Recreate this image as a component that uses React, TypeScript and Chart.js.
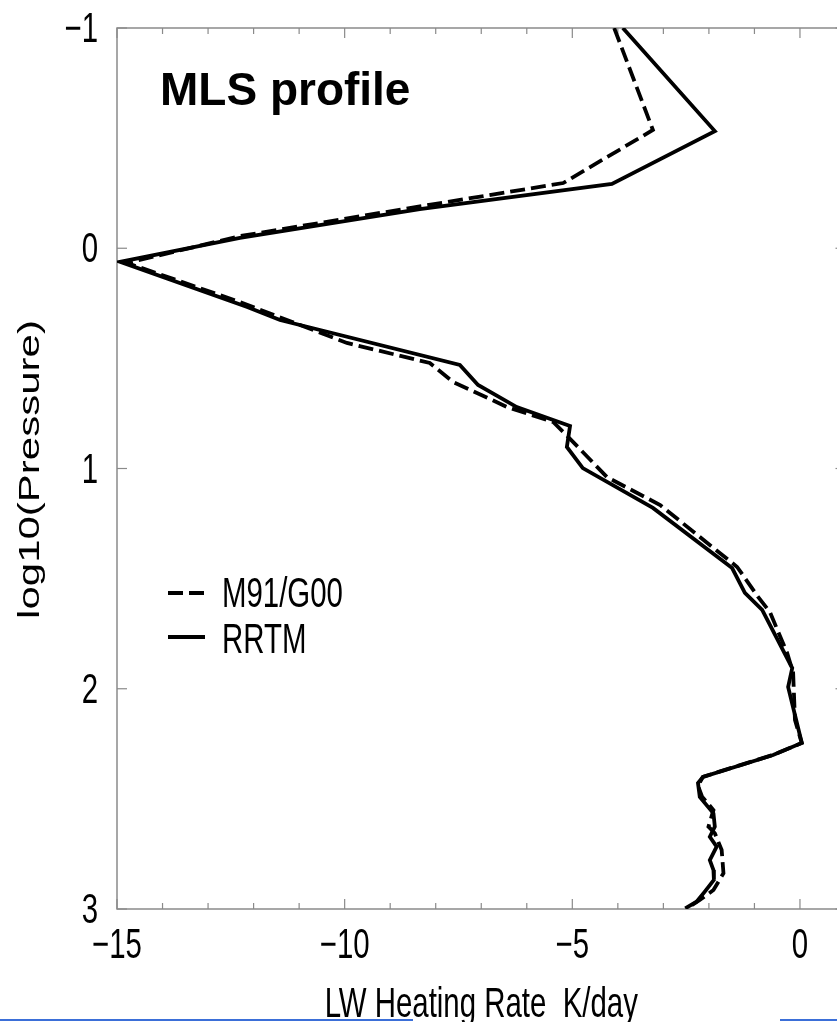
import React, { useEffect, useRef } from "react";
import { Chart, registerables } from "chart.js";

Chart.register(...registerables);

// ---- data ----
const rrtmRate = [
  -3.89, -1.87, -4.13, -8.35, -12.3, -14.93, -12.14, -11.42, -7.47, -7.07, -6.22, -5.05,
  -5.12, -4.77, -3.23, -1.49, -1.21, -0.83, -0.17, -0.26, 0.04, -0.59, -2.13, -2.24,
  -2.2, -1.9, -1.87, -1.98, -1.83, -1.98, -1.9, -1.89, -2.09, -2.27, -2.52,
];
const rrtmLogP = [
  -1.0, -0.532, -0.292, -0.178, -0.047, 0.062, 0.267, 0.326, 0.53, 0.621, 0.721, 0.807,
  0.902, 0.998, 1.179, 1.452, 1.565, 1.642, 1.906, 1.992, 2.246, 2.301, 2.4, 2.428,
  2.491, 2.566, 2.626, 2.672, 2.717, 2.778, 2.823, 2.868, 2.921, 2.967, 2.997,
];
const m91Rate = [
  -4.08, -3.23, -5.2, -8.35, -12.3, -14.78, -12.3, -9.95, -8.13, -7.62, -6.43, -5.42,
  -4.98, -4.24, -3.07, -1.38, -0.92, -0.66, -0.28, -0.15, -0.11, 0.04, -0.59, -2.13,
  -2.24, -2.15, -1.9, -2.01, -1.87, -1.72, -1.68, -1.9, -2.2, -2.49,
];
const m91LogP = [
  -1.0, -0.537, -0.296, -0.19, -0.055, 0.067, 0.244, 0.43, 0.521, 0.607, 0.721, 0.789,
  0.88, 1.039, 1.166, 1.447, 1.583, 1.652, 1.838, 1.928, 2.142, 2.246, 2.3, 2.4,
  2.44, 2.49, 2.551, 2.626, 2.656, 2.732, 2.838, 2.914, 2.959, 2.997,
];

const seriesLabels = ["M91/G00", "RRTM"];
const xTickValues = [-15, -10, -5, 0];
const xMinorTickValues = [-15, -14, -13, -12, -11, -10, -9, -8, -7, -6, -5, -4, -3, -2, -1, 0, 1];
const yTickValues = [-1, 0, 1, 2, 3];
const panelTitle = "MLS profile";
const xTitle = "LW Heating Rate  K/day";
const yTitle = "log10(Pressure)";

const SANS = "'Liberation Sans', Arial, Helvetica, sans-serif";
const TXT = `42px ${SANS}`;
const SQUEEZE = 0.7; // the reference's lettering is vertically stretched

const fmt = (v: number) => (v < 0 ? "\u2212" + Math.abs(v) : String(v));
const zip = (xs: number[], ys: number[]) => xs.map((x, i) => ({ x, y: ys[i] }));

function squeezedText(
  ctx: CanvasRenderingContext2D,
  text: string,
  x: number,
  y: number,
  align: CanvasTextAlign
) {
  ctx.save();
  ctx.translate(x, y);
  ctx.scale(SQUEEZE, 1);
  ctx.font = TXT;
  ctx.textAlign = align;
  ctx.textBaseline = "alphabetic";
  ctx.fillText(text, 0, 0);
  ctx.restore();
}

const framePlugin = {
  id: "frameTicks",
  beforeDatasetsDraw(chart: any) {
    const { ctx, chartArea, scales } = chart;
    const { left, right, top, bottom } = chartArea;
    const line = (x1: number, y1: number, x2: number, y2: number) => {
      ctx.beginPath();
      ctx.moveTo(x1, y1);
      ctx.lineTo(x2, y2);
      ctx.stroke();
    };
    ctx.save();
    ctx.strokeStyle = "#8a8a8a";
    ctx.lineWidth = 1.5;
    ctx.strokeRect(left, top, right - left, bottom - top);
    ctx.lineWidth = 1.2;
    xMinorTickValues.forEach((v) => {
      const px = scales.x.getPixelForValue(v);
      const len = xTickValues.includes(v) ? 10 : 6;
      line(px, bottom, px, bottom - len);
      line(px, top, px, top + len);
    });
    yTickValues.forEach((v) => {
      const py = scales.y.getPixelForValue(v);
      line(left, py, left + 10, py);
      line(right, py, right - 10, py);
    });
    ctx.restore();
  },
};

const textPlugin = {
  id: "texts",
  afterDraw(chart: any) {
    const { ctx, chartArea, scales } = chart;
    ctx.save();
    ctx.fillStyle = "#000";

    // tick labels, placed with the scales' own ticks
    scales.x.ticks.forEach((t: any) => {
      squeezedText(ctx, fmt(t.value), scales.x.getPixelForValue(t.value), chartArea.bottom + 49, "center");
    });
    scales.y.ticks.forEach((t: any) => {
      squeezedText(ctx, fmt(t.value), chartArea.left - 19, scales.y.getPixelForValue(t.value) + 14, "right");
    });

    // axis titles
    squeezedText(ctx, xTitle, (chartArea.left + chartArea.right) / 2, chartArea.bottom + 108, "center");
    ctx.save();
    ctx.translate(38.5, (chartArea.top + chartArea.bottom) / 2 + 1);
    ctx.rotate(-Math.PI / 2);
    ctx.scale(1, SQUEEZE);
    ctx.font = TXT;
    ctx.textAlign = "center";
    ctx.textBaseline = "alphabetic";
    ctx.fillText(yTitle, 0, 0);
    ctx.restore();

    // panel title
    ctx.font = `bold 46px ${SANS}`;
    ctx.textAlign = "left";
    ctx.textBaseline = "alphabetic";
    ctx.fillText(panelTitle, 160, 105);

    // legend
    const rows = [593, 637];
    const baselines = [607, 653];
    chart.data.datasets.forEach((ds: any, i: number) => {
      ctx.strokeStyle = ds.borderColor;
      ctx.lineWidth = ds.borderWidth;
      ctx.setLineDash(ds.borderDash || []);
      ctx.beginPath();
      ctx.moveTo(168, rows[i]);
      ctx.lineTo(205, rows[i]);
      ctx.stroke();
      ctx.setLineDash([]);
      squeezedText(ctx, ds.label, 222, baselines[i], "left");
    });
    ctx.restore();
  },
};

export default function App() {
  const ref = useRef<HTMLCanvasElement | null>(null);

  useEffect(() => {
    if (!ref.current) return;
    const chart = new Chart(ref.current, {
      type: "scatter",
      data: {
        datasets: [
          {
            label: seriesLabels[0],
            data: zip(m91Rate, m91LogP),
            showLine: true,
            borderColor: "#000",
            backgroundColor: "#000",
            borderWidth: 3.8,
            borderDash: [15, 6],
            pointRadius: 0,
            tension: 0,
          },
          {
            label: seriesLabels[1],
            data: zip(rrtmRate, rrtmLogP),
            showLine: true,
            borderColor: "#000",
            backgroundColor: "#000",
            borderWidth: 3.8,
            pointRadius: 0,
            tension: 0,
          },
        ],
      },
      options: {
        animation: false,
        responsive: false,
        devicePixelRatio: 1,
        layout: { padding: { top: 28, right: 14.5, left: 0, bottom: 0 } },
        plugins: { legend: { display: false }, tooltip: { enabled: false } },
        scales: {
          x: {
            type: "linear",
            position: "bottom",
            min: -15,
            max: 1,
            grid: { display: false, drawTicks: false },
            border: { display: false },
            ticks: { display: false },
            afterBuildTicks: (s: any) => {
              s.ticks = xTickValues.map((v) => ({ value: v }));
            },
            afterFit: (s: any) => {
              s.height = 113;
              s.paddingLeft = 0;
              s.paddingRight = 0;
            },
          },
          y: {
            type: "linear",
            position: "left",
            min: -1,
            max: 3,
            reverse: true,
            grid: { display: false, drawTicks: false },
            border: { display: false },
            ticks: { display: false },
            afterBuildTicks: (s: any) => {
              s.ticks = yTickValues.map((v) => ({ value: v }));
            },
            afterFit: (s: any) => {
              s.width = 117;
              s.paddingTop = 0;
              s.paddingBottom = 0;
            },
          },
        },
      },
      plugins: [framePlugin, textPlugin],
    });
    return () => chart.destroy();
  }, []);

  return (
    <div
      style={{
        position: "fixed",
        left: 0,
        top: 0,
        width: 837,
        height: 1022,
        overflow: "hidden",
        background: "#fff",
      }}
    >
      <canvas ref={ref} width={860} height={1022} style={{ width: 860, height: 1022, display: "block" }} />
      <div style={{ position: "absolute", left: 0, top: 1019, width: 413, height: 2, background: "#3b6fd8" }} />
      <div style={{ position: "absolute", left: 780, top: 1019, width: 57, height: 2, background: "#3b6fd8" }} />
    </div>
  );
}
